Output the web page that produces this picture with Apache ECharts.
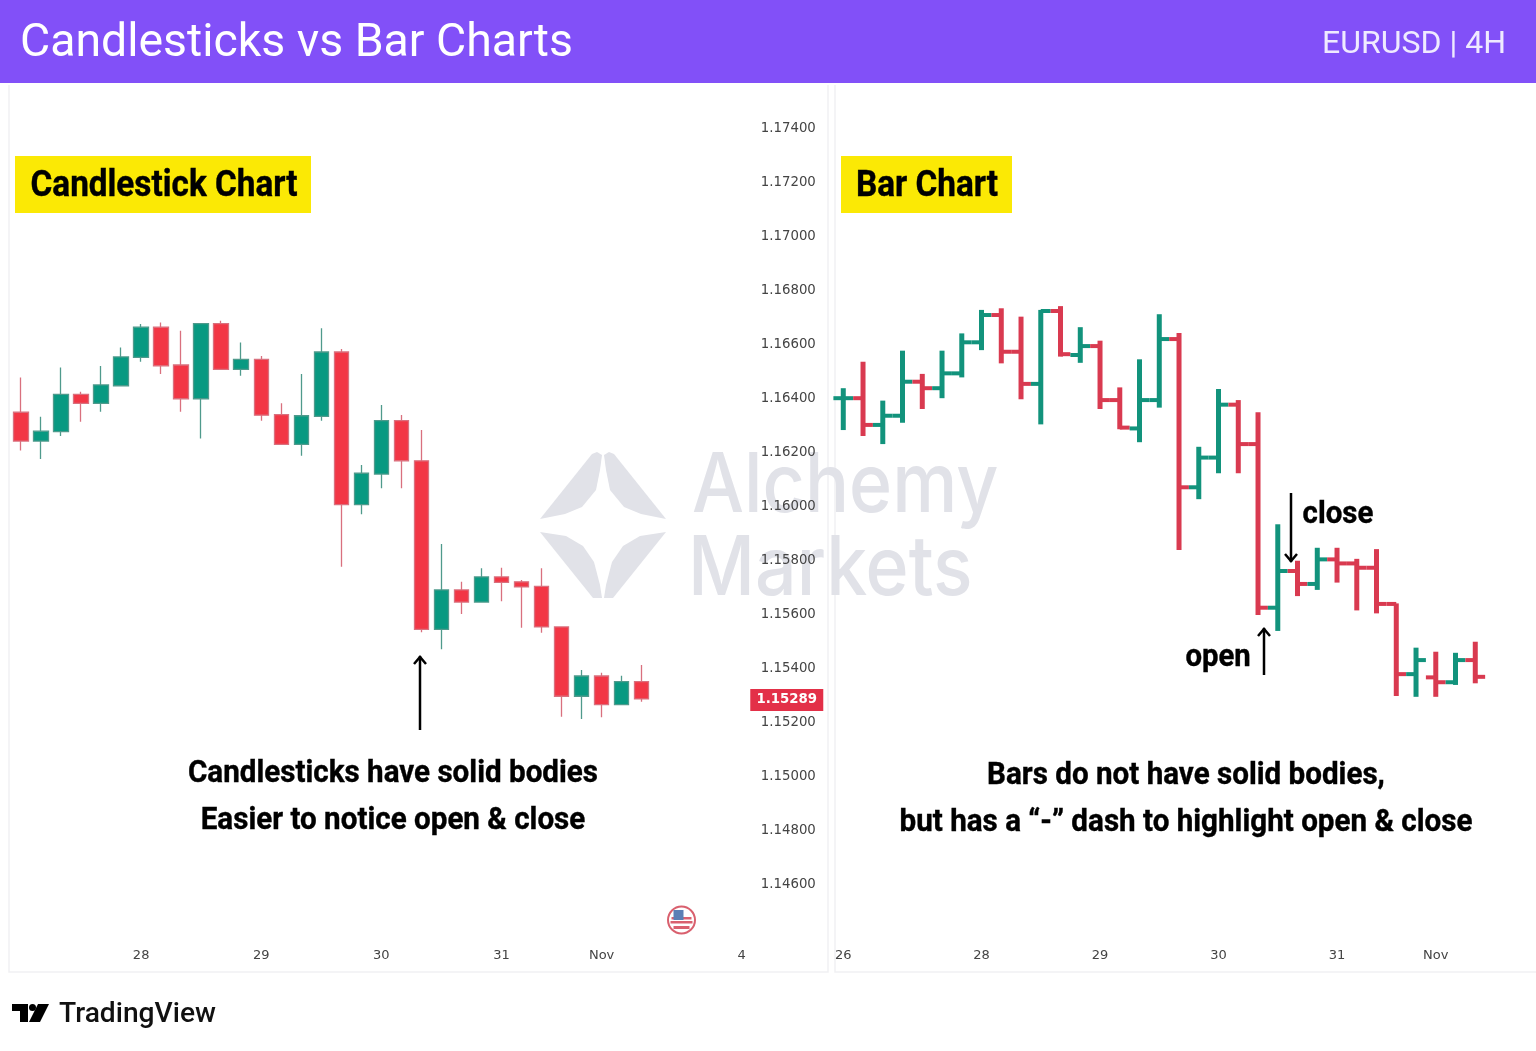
<!DOCTYPE html>
<html>
<head>
<meta charset="utf-8">
<style>
  html, body { margin: 0; padding: 0; background: #fff; }
  #chart { width: 1536px; height: 1051px; }
</style>
<script src="https://cdn.jsdelivr.net/npm/echarts@6/dist/echarts.min.js"></script>
</head>
<body>
<div id="chart"></div>
<script>
// left panel, candlesticks
var candleOpen = [1.16351,1.16244,1.16279,1.16417,1.16384,1.16449,1.16554,1.16666,1.16526,1.16401,1.16679,1.16510,1.16547,1.16342,1.16232,1.16336,1.16574,1.16009,1.16122,1.16320,1.16171,1.15547,1.15693,1.15648,1.15741,1.15723,1.15706,1.15556,1.15299,1.15374,1.15268,1.15353];
var candleClose = [1.16244,1.16281,1.16417,1.16384,1.16452,1.16556,1.16666,1.16523,1.16401,1.16679,1.16510,1.16547,1.16340,1.16232,1.16338,1.16574,1.16009,1.16125,1.16320,1.16171,1.15547,1.15693,1.15648,1.15741,1.15721,1.15704,1.15556,1.15299,1.15374,1.15268,1.15353,1.15289];
var candleHigh = [1.16480,1.16334,1.16517,1.16427,1.16522,1.16591,1.16678,1.16683,1.16653,1.16680,1.16690,1.16609,1.16559,1.16384,1.16493,1.16662,1.16585,1.16156,1.16378,1.16341,1.16285,1.15863,1.15723,1.15773,1.15775,1.15730,1.15773,1.15558,1.15396,1.15386,1.15375,1.15415];
var candleLow = [1.16209,1.16178,1.16263,1.16316,1.16353,1.16449,1.16538,1.16493,1.16353,1.16254,1.16510,1.16486,1.16319,1.16232,1.16190,1.16319,1.15779,1.15973,1.16069,1.16069,1.15536,1.15473,1.15604,1.15648,1.15651,1.15553,1.15534,1.15223,1.15215,1.15221,1.15268,1.15279];
var leftTickIndex = [6,12,18,24,29,36];
var leftTickText = ['28','29','30','31','Nov','4'];
var lastPrice = 1.15289;

// right panel, OHLC bars
var barOpen = [1.16403,1.16403,1.16304,1.16338,1.16464,1.16440,1.16495,1.16610,1.16711,1.16575,1.16456,1.16726,1.16563,1.16596,1.16396,1.16291,1.16396,1.16622,1.16073,1.16183,1.16379,1.16233,1.15627,1.15763,1.15715,1.15806,1.15791,1.15775,1.15641,1.15381,1.15369,1.15351,1.15433];
var barClose = [1.16403,1.16304,1.16338,1.16464,1.16440,1.16495,1.16610,1.16711,1.16575,1.16456,1.16726,1.16566,1.16596,1.16396,1.16294,1.16396,1.16622,1.16073,1.16183,1.16379,1.16233,1.15627,1.15763,1.15715,1.15806,1.15791,1.15775,1.15641,1.15381,1.15433,1.15351,1.15433,1.15371];
var barHigh = [1.16440,1.16538,1.16394,1.16579,1.16493,1.16579,1.16643,1.16730,1.16736,1.16705,1.16730,1.16744,1.16666,1.16616,1.16443,1.16547,1.16714,1.16644,1.16223,1.16437,1.16396,1.16351,1.15936,1.15801,1.15849,1.15849,1.15808,1.15844,1.15643,1.15479,1.15464,1.15460,1.15501];
var barLow = [1.16285,1.16263,1.16233,1.16312,1.16363,1.16403,1.16480,1.16581,1.16532,1.16399,1.16306,1.16557,1.16534,1.16363,1.16288,1.16240,1.16368,1.15841,1.16029,1.16125,1.16125,1.15600,1.15541,1.15670,1.15693,1.15720,1.15617,1.15606,1.15300,1.15297,1.15297,1.15341,1.15347];
var rightTickIndex = [0,7,13,19,25,30];
var rightTickText = ['26','28','29','30','31','Nov'];

var UP = '#089981', DOWN = '#f23645';
var UP_WICK = '#4f9a8c', DOWN_WICK = '#d9707e';
var BAR_UP = '#12937c', BAR_DOWN = '#d93a50';
var WATERMARK = '#e1e2e8';
var NARROW = 'Roboto';

function categories(count, idx, text) {
  var out = [];
  for (var i = 0; i < count; i++) {
    var p = idx.indexOf(i);
    out.push(p >= 0 ? text[p] : '');
  }
  return out;
}

var candleData = candleOpen.map(function(o, i) {
  return [o, candleClose[i], candleLow[i], candleHigh[i]];
});
var barData = barOpen.map(function(o, i) {
  return [i, o, barHigh[i], barLow[i], barClose[i]];
});

function renderBar(params, api) {
  var i = api.value(0);
  var o = api.coord([i, api.value(1)]);
  var h = api.coord([i, api.value(2)]);
  var l = api.coord([i, api.value(3)]);
  var c = api.coord([i, api.value(4)]);
  var half = api.size([1, 0])[0] / 2;
  var color = api.value(4) >= api.value(1) ? BAR_UP : BAR_DOWN;
  var stem = { stroke: color, lineWidth: 5 };
  var tick = { stroke: color, lineWidth: 4 };
  return {
    type: 'group',
    children: [
      { type: 'line', shape: { x1: h[0], y1: h[1], x2: l[0], y2: l[1] }, style: stem },
      { type: 'line', shape: { x1: o[0] - half, y1: o[1], x2: o[0], y2: o[1] }, style: tick },
      { type: 'line', shape: { x1: c[0], y1: c[1], x2: c[0] + half, y2: c[1] }, style: tick }
    ]
  };
}

// narrow bold annotation text, squeezed so the width fits the picture
function note(text, x, y, size, scaleX) {
  return {
    type: 'text', x: x, y: y, scaleX: scaleX, z: 5,
    style: {
      text: text, x: 0, y: 0, fill: '#000', stroke: '#000', lineWidth: 0.4, align: 'center', verticalAlign: 'middle',
      font: 'bold ' + size + 'px ' + NARROW
    }
  };
}

function arrow(x, y1, y2) {
  var dir = y2 > y1 ? -1 : 1;
  return {
    type: 'group', z: 5,
    children: [
      { type: 'line', shape: { x1: x, y1: y1, x2: x, y2: y2 }, style: { stroke: '#000', lineWidth: 2.5 } },
      { type: 'polyline', shape: { points: [[x - 6, y2 + dir * 8], [x, y2 + dir * 1], [x + 6, y2 + dir * 8]] }, style: { stroke: '#000', lineWidth: 2.5, fill: null } }
    ]
  };
}

function logoPiece(points) {
  return { type: 'polygon', z: 0, shape: { points: points }, style: { fill: WATERMARK } };
}

function flag() {
  var cx = 681.5, cy = 920;
  return {
    type: 'group', z: 3,
    children: [
      { type: 'circle', shape: { cx: cx, cy: cy, r: 13.5 }, style: { fill: '#fff', stroke: '#d9606e', lineWidth: 2 } },
      { type: 'rect', shape: { x: cx - 10, y: cy - 3, width: 20, height: 2.5 }, style: { fill: '#d9606e' } },
      { type: 'rect', shape: { x: cx - 11, y: cy + 1, width: 22, height: 2.5 }, style: { fill: '#d9606e' } },
      { type: 'rect', shape: { x: cx - 8, y: cy + 6, width: 16, height: 3 }, style: { fill: '#d9606e' } },
      { type: 'rect', shape: { x: cx - 8, y: cy - 10, width: 10, height: 10 }, style: { fill: '#5b7fb5' } }
    ]
  };
}

var graphics = [
  // header band
  { type: 'rect', shape: { x: 0, y: 0, width: 1536, height: 83 }, style: { fill: '#8250f8' }, z: 0 },
  { type: 'text', x: 20, y: 44, z: 1, style: { text: 'Candlesticks vs Bar Charts', fill: '#fff', font: '46.4px Roboto', verticalAlign: 'middle' } },
  { type: 'text', x: 1506, y: 45, z: 1, style: { text: 'EURUSD | 4H', fill: '#efeaff', font: '32px Roboto', align: 'right', verticalAlign: 'middle' } },

  // panel frames
  { type: 'polyline', z: 0, shape: { points: [[9, 85], [9, 972], [828, 972], [828, 85]] }, style: { stroke: '#f1f1f3', lineWidth: 1.5, fill: null } },
  { type: 'polyline', z: 0, shape: { points: [[835, 85], [835, 972], [1536, 972]] }, style: { stroke: '#f1f1f3', lineWidth: 1.5, fill: null } },

  // watermark
  logoPiece([[540,519],[592,454],[597,452],[602,455],[600,470],[596,490],[582,507],[565,514]]),
  logoPiece([[666,519],[614,454],[609,452],[604,455],[606,470],[610,490],[624,507],[641,514]]),
  logoPiece([[540,532],[566,536],[583,546],[594,562],[600,585],[602,598],[593,598]]),
  logoPiece([[666,532],[640,536],[623,546],[612,562],[606,585],[604,598],[613,598]]),
  { type: 'text', x: 692, y: 487, z: 0, scaleX: 0.895, style: { text: 'Alchemy', x: 0, y: 0, fill: WATERMARK, font: '500 82px Inter', verticalAlign: 'middle' } },
  { type: 'text', x: 688, y: 570, z: 0, scaleX: 0.895, style: { text: 'Markets', x: 0, y: 0, fill: WATERMARK, font: '500 82px Inter', verticalAlign: 'middle' } },

  // labels
  { type: 'rect', z: 4, shape: { x: 15, y: 156, width: 296, height: 57 }, style: { fill: '#fbe905' } },
  { type: 'rect', z: 4, shape: { x: 841, y: 156, width: 171, height: 57 }, style: { fill: '#fbe905' } },
  note('Candlestick Chart', 164, 187, 37, 0.9),
  note('Bar Chart', 927, 187, 37, 0.9),
  note('Candlesticks have solid bodies', 393, 774, 32, 0.925),
  note('Easier to notice open & close', 393, 821, 32, 0.925),
  note('Bars do not have solid bodies,', 1186, 776, 32, 0.925),
  note('but has a \u201c-\u201d dash to highlight open & close', 1186, 823, 32, 0.925),
  note('close', 1338, 515, 32, 0.92),
  note('open', 1218, 658, 32, 0.915),
  arrow(420, 730, 656),
  arrow(1291, 493, 562),
  arrow(1264, 675, 628),
  flag(),

  // TradingView mark
  { type: 'rect', z: 1, shape: { x: 12, y: 1004, width: 16, height: 7 }, style: { fill: '#000' } },
  { type: 'rect', z: 1, shape: { x: 20, y: 1004, width: 8, height: 18 }, style: { fill: '#000' } },
  { type: 'circle', z: 1, shape: { cx: 32.5, cy: 1007.5, r: 3.5 }, style: { fill: '#000' } },
  { type: 'polygon', z: 1, shape: { points: [[38, 1004], [49, 1004], [40, 1022], [29, 1022]] }, style: { fill: '#000' } },
  { type: 'text', x: 59, y: 1015, z: 1, style: { text: 'TradingView', fill: '#111', font: '500 28.2px Roboto', verticalAlign: 'middle' } }
];

var dateLabel = { interval: 0, margin: 64, color: '#444', fontFamily: 'DejaVu Sans', fontSize: 13, fontWeight: 500 };

var option = {
  animation: false,
  backgroundColor: '#fff',
  tooltip: { show: false },
  graphic: graphics,
  grid: [
    { left: 11, top: 129, width: 800.8, height: 756 },
    { left: 833.4, top: 129, width: 691.25, height: 756 }
  ],
  xAxis: [
    {
      type: 'category', gridIndex: 0,
      data: categories(40, leftTickIndex, leftTickText),
      axisLine: { show: false }, axisTick: { show: false }, splitLine: { show: false },
      axisLabel: dateLabel
    },
    {
      type: 'category', gridIndex: 1,
      data: categories(35, rightTickIndex, rightTickText),
      axisLine: { show: false }, axisTick: { show: false }, splitLine: { show: false },
      axisLabel: dateLabel
    }
  ],
  yAxis: [
    {
      type: 'value', gridIndex: 0, position: 'right', offset: 4,
      min: 1.146, max: 1.174, interval: 0.002,
      axisLine: { show: false }, axisTick: { show: false }, splitLine: { show: false },
      axisLabel: {
        inside: true, margin: 0, padding: [4, 0, 0, 0], color: '#444', fontFamily: 'DejaVu Sans', fontSize: 13.3, fontWeight: 500,
        formatter: function(v) { return v.toFixed(5); }
      }
    },
    {
      type: 'value', gridIndex: 1,
      min: 1.146, max: 1.174, interval: 0.002,
      axisLine: { show: false }, axisTick: { show: false }, splitLine: { show: false },
      axisLabel: { show: false }
    }
  ],
  series: [
    {
      type: 'candlestick', xAxisIndex: 0, yAxisIndex: 0, z: 2,
      data: candleData,
      barWidth: 15,
      itemStyle: { color: UP, color0: DOWN, borderColor: UP_WICK, borderColor0: DOWN_WICK, borderWidth: 1.3 },
      markPoint: {
        silent: true,
        symbol: 'rect',
        symbolSize: [73, 22],
        symbolOffset: [5, 1],
        itemStyle: { color: '#e33048' },
        label: { show: true, position: 'inside', color: '#fff', fontFamily: 'DejaVu Sans', fontSize: 13.3, fontWeight: 'bold', formatter: lastPrice.toFixed(5) },
        data: [{ coord: [38, lastPrice] }]
      }
    },
    {
      type: 'custom', xAxisIndex: 1, yAxisIndex: 1, z: 2,
      data: barData,
      encode: { x: 0, y: [1, 2, 3, 4] },
      renderItem: renderBar
    }
  ]
};

var myChart = echarts.init(document.getElementById('chart'));
myChart.setOption(option);
</script>
</body>
</html>
